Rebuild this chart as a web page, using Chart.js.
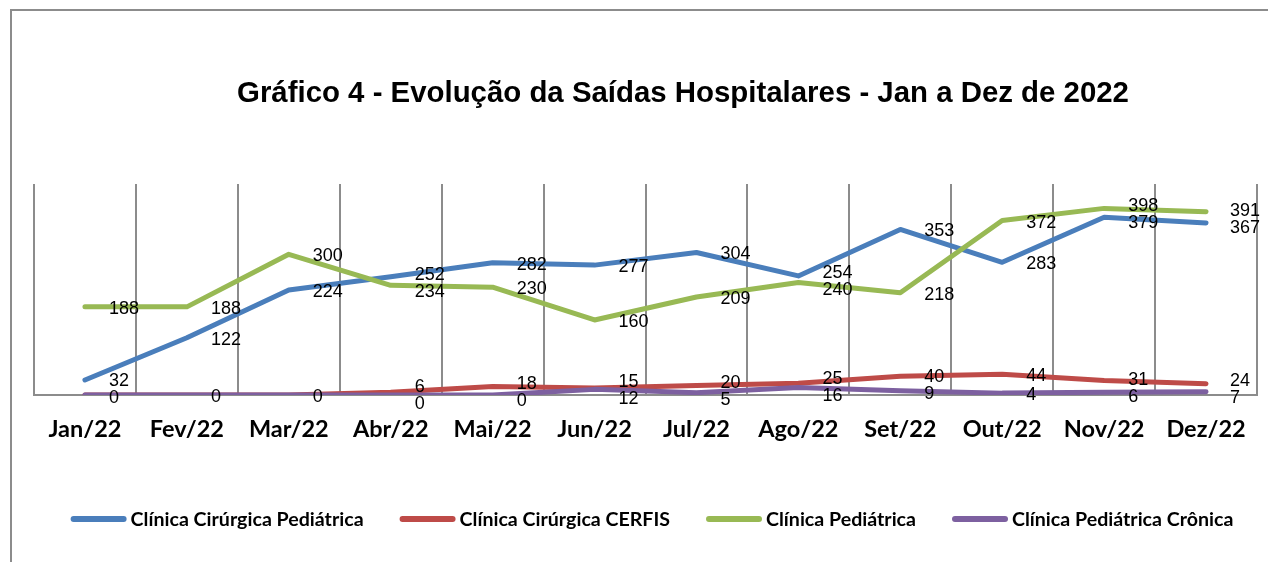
<!DOCTYPE html>
<html><head><meta charset="utf-8">
<script src="https://cdn.jsdelivr.net/npm/chart.js@4.4.0/dist/chart.umd.min.js"></script>
<style>html,body{margin:0;padding:0;background:#fff;}#wrap{width:1268px;height:562px;position:relative;}</style>
</head><body>
<div id="wrap"><canvas id="c"></canvas></div>
<script>
const categories = ['Jan/22','Fev/22','Mar/22','Abr/22','Mai/22','Jun/22','Jul/22','Ago/22','Set/22','Out/22','Nov/22','Dez/22'];
const seriesNames = ['Clínica Cirúrgica Pediátrica','Clínica Cirúrgica CERFIS','Clínica Pediátrica','Clínica Pediátrica Crônica'];
const cirurgicaPediatrica = [32,122,224,252,282,277,304,254,353,283,379,367];
const cirurgicaCerfis = [0,0,0,6,18,15,20,25,40,44,31,24];
const clinicaPediatrica = [188,188,300,234,230,160,209,240,218,372,398,391];
const pediatricaCronica = [0,0,0,0,0,12,5,16,9,4,6,7];
const seriesColors = ['#4A7EBB','#BE4B48','#98B954','#7D60A0'];
const titleText = 'Gráfico 4 - Evolução da Saídas Hospitalares - Jan a Dez de 2022';

const frameTitleLegend = {
  id: 'frameTitleLegend',
  beforeDraw(chart) {
    const ctx = chart.ctx;
    ctx.save();
    ctx.strokeStyle = '#8c8c8c';
    ctx.lineWidth = 2;
    ctx.beginPath();
    ctx.moveTo(11, 562); ctx.lineTo(11, 10); ctx.lineTo(1268, 10);
    ctx.stroke();
    ctx.restore();
  },
  afterDraw(chart) {
    const ctx = chart.ctx;
    ctx.save();
    // title
    ctx.fillStyle = '#000';
    ctx.font = 'bold 29.4px "Liberation Sans", Arial, sans-serif';
    ctx.textAlign = 'center';
    ctx.textBaseline = 'middle';
    ctx.fillText(titleText, 683, 94);
    // legend
    ctx.font = 'bold 19.6px Lato, sans-serif';
    ctx.textAlign = 'left';
    const lineLen = 56, gap = 4, spacing = 36;
    const widths = chart.data.datasets.map(ds => ctx.measureText(ds.label).width);
    let total = 0;
    widths.forEach((w, i) => { total += lineLen + gap + w + (i < widths.length - 1 ? spacing : 0); });
    let x = 652 - total / 2;
    const y = 519;
    chart.data.datasets.forEach((ds, i) => {
      ctx.strokeStyle = ds.borderColor;
      ctx.lineWidth = 6;
      ctx.lineCap = 'round';
      ctx.beginPath();
      ctx.moveTo(x + 3, y); ctx.lineTo(x + lineLen - 3, y);
      ctx.stroke();
      ctx.fillStyle = '#000';
      ctx.fillText(ds.label, x + lineLen + gap, y + 1);
      x += lineLen + gap + widths[i] + spacing;
    });
    ctx.restore();
  }
};

const pointLabels = {
  id: 'pointLabels',
  afterDatasetsDraw(chart) {
    const ctx = chart.ctx;
    ctx.save();
    ctx.font = '18px "Liberation Sans", Arial, sans-serif';
    ctx.fillStyle = '#000';
    ctx.textAlign = 'left';
    ctx.textBaseline = 'middle';
    const n = chart.data.labels.length;
    const H = 17;
    for (let i = 0; i < n; i++) {
      let items = [];
      chart.data.datasets.forEach((ds, d) => {
        const p = chart.getDatasetMeta(d).data[i];
        const it = { t: String(ds.data[i]), x: p.x + 24, y: p.y + 2 };
        if (!items.some(o => o.t === it.t && Math.abs(o.y - it.y) < 0.5)) items.push(it);
      });
      for (let iter = 0; iter < 30; iter++) {
        items.sort((a, b) => a.y - b.y);
        for (let k = 1; k < items.length; k++) {
          const a = items[k - 1], b = items[k];
          const dd = b.y - a.y;
          if (dd < H) { const s = (H - dd) / 2; a.y -= s; b.y += s; }
        }
      }
      items.forEach(it => ctx.fillText(it.t, it.x, it.y));
    }
    ctx.restore();
  }
};

const seriesData = [cirurgicaPediatrica, cirurgicaCerfis, clinicaPediatrica, pediatricaCronica];
const drawOrder = [3, 2, 1, 0];

new Chart(document.getElementById('c'), {
  type: 'line',
  data: {
    labels: categories,
    datasets: seriesData.map((d, i) => ({
      label: seriesNames[i],
      data: d,
      borderColor: seriesColors[i],
      backgroundColor: seriesColors[i],
      borderWidth: 5,
      pointRadius: 0,
      pointHoverRadius: 0,
      tension: 0,
      borderCapStyle: 'round',
      borderJoinStyle: 'round',
      fill: false,
      order: drawOrder[i]
    }))
  },
  options: {
    responsive: true,
    maintainAspectRatio: false,
    animation: false,
    events: [],
    layout: { padding: { top: 184, left: 34, right: 11, bottom: 117 } },
    plugins: { legend: { display: false }, title: { display: false }, tooltip: { enabled: false } },
    scales: {
      x: {
        offset: true,
        grid: { display: true, offset: true, color: '#8c8c8c', lineWidth: 2, drawTicks: false },
        border: { display: true, color: '#8c8c8c', width: 2 },
        ticks: { color: '#000', padding: 20, font: { family: 'Lato', weight: 'bold', size: 23.5 }, maxRotation: 0, autoSkip: false },
        afterFit(scale) { scale.height = 50; }
      },
      y: {
        display: false,
        min: 0,
        max: 450
      }
    }
  },
  plugins: [frameTitleLegend, pointLabels]
});
</script>
</body></html>
